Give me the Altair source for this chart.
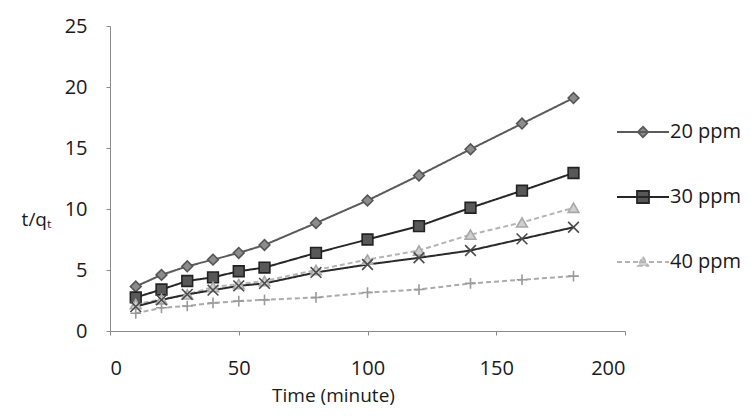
import altair as alt
import pandas as pd

# ---- data ----
time_min = [10, 20, 30, 40, 50, 60, 80, 100, 120, 140, 160, 180]
series_names = ["20 ppm", "30 ppm", "40 ppm", "50 ppm", "60 ppm"]
s20 = [3.65, 4.6, 5.3, 5.85, 6.4, 7.05, 8.85, 10.7, 12.75, 14.9, 17.0, 19.1]
s30 = [2.75, 3.4, 4.1, 4.4, 4.9, 5.2, 6.4, 7.5, 8.6, 10.1, 11.5, 12.95]
s40 = [2.2, 2.6, 3.0, 3.6, 3.85, 4.1, 5.0, 5.85, 6.6, 7.9, 8.9, 10.1]
s50 = [2.0, 2.55, 3.0, 3.35, 3.7, 3.9, 4.8, 5.45, 6.0, 6.6, 7.55, 8.5]
s60 = [1.45, 1.9, 2.05, 2.3, 2.45, 2.55, 2.75, 3.15, 3.4, 3.9, 4.2, 4.5]
legend_names = ["20 ppm", "30 ppm", "40 ppm"]
x_ticks = [0, 50, 100, 150, 200]
y_ticks = [0, 5, 10, 15, 20, 25]

rows = []
for name, vals in zip(series_names, [s20, s30, s40, s50, s60]):
    for t, v in zip(time_min, vals):
        rows.append({"time": t, "value": v, "series": name})
df = pd.DataFrame(rows)

FONT = "Open Sans"
line_colors = ["#5a5a5a", "#262626", "#b4b4b4", "#2a2a2a", "#ababab"]
marker_stroke = ["#555555", "#222222", "#a8a8a8", "#4a4a4a", "#9a9a9a"]
marker_fill = ["#8c8c8c", "#585858", "#cfcfcf", "transparent", "transparent"]
dashes = [[1, 0], [1, 0], [5, 3], [1, 0], [5, 3]]
x_path = "M-1,-1L1,1M1,-1L-1,1"
plus_path = "M0,-1V1M-1,0H1"
shapes = ["diamond", "square", "triangle-up", x_path, plus_path]

x_enc = alt.X("time:Q", scale=alt.Scale(domain=[0, 200], nice=False),
              axis=alt.Axis(values=x_ticks, title="Time (minute)", titleY=70, titleX=223,
                            titleAlign="center", titleBaseline="alphabetic", labelPadding=23))
y_enc = alt.Y("value:Q", scale=alt.Scale(domain=[0, 25], nice=False),
              axis=alt.Axis(values=y_ticks, title="t/qₜ", titleAngle=0,
                            titleAlign="center", titleBaseline="middle",
                            titleX=-74, titleY=193, labelPadding=19))

lines = alt.Chart(df).mark_line(strokeWidth=2).encode(
    x=x_enc, y=y_enc,
    color=alt.Color("series:N", scale=alt.Scale(domain=series_names, range=line_colors), legend=None),
    strokeDash=alt.StrokeDash("series:N", scale=alt.Scale(domain=series_names, range=dashes), legend=None),
    detail="series:N",
)

points = alt.Chart(df).mark_point(size=115, opacity=1, fillOpacity=1, strokeWidth=1.6).encode(
    x="time:Q", y="value:Q",
    stroke=alt.Stroke("series:N", scale=alt.Scale(domain=series_names, range=marker_stroke), legend=None),
    fill=alt.Fill("series:N", scale=alt.Scale(domain=series_names, range=marker_fill), legend=None),
    shape=alt.Shape("series:N", scale=alt.Scale(domain=series_names, range=shapes), legend=None),
)

legend_shapes = [
    "M-1,0H1M0,-0.2L0.2,0L0,0.2L-0.2,0Z",
    "M-1,0H1M-0.23,-0.23H0.23V0.23H-0.23Z",
    "M-1,0H1M0,-0.2L0.2,0.15H-0.2Z",
]
leg = alt.Legend(title=" ", titleFontSize=8, titlePadding=71, orient="right", offset=-9,
                 rowPadding=28, symbolSize=2704, symbolStrokeWidth=1.8, labelFontSize=20,
                 labelFont=FONT, labelColor="#1a1a1a", labelOffset=0, padding=0)

legend_layer = alt.Chart(df).mark_point(opacity=1, fillOpacity=1).encode(
    x="time:Q", y="value:Q",
    color=alt.Color("series:N", scale=alt.Scale(domain=legend_names, range=line_colors[:3]), legend=leg),
    fill=alt.Fill("series:N", scale=alt.Scale(domain=legend_names, range=marker_fill[:3]), legend=leg),
    shape=alt.Shape("series:N", scale=alt.Scale(domain=legend_names, range=legend_shapes), legend=leg),
    strokeDash=alt.StrokeDash("series:N", scale=alt.Scale(domain=legend_names, range=dashes[:3]), legend=leg),
).transform_filter("false")

chart = alt.layer(lines, points, legend_layer).resolve_scale(
    color="independent", shape="independent", strokeDash="independent", fill="independent"
).properties(
    width=734, height=400,
    autosize=alt.AutoSizeParams(type="fit", contains="padding"),
    padding={"left": 13, "top": 8, "right": 0, "bottom": 3},
    background="white",
).configure_view(stroke=None).configure_axis(
    grid=False, domainColor="#8a8a8a", tickColor="#8a8a8a", tickSize=4,
    labelFont=FONT, labelFontSize=20, labelColor="#1a1a1a",
    titleFont=FONT, titleFontSize=19, titleFontWeight="normal", titleColor="#1a1a1a",
)

chart.save("out.html", embed_options={"renderer": "svg", "actions": False})
